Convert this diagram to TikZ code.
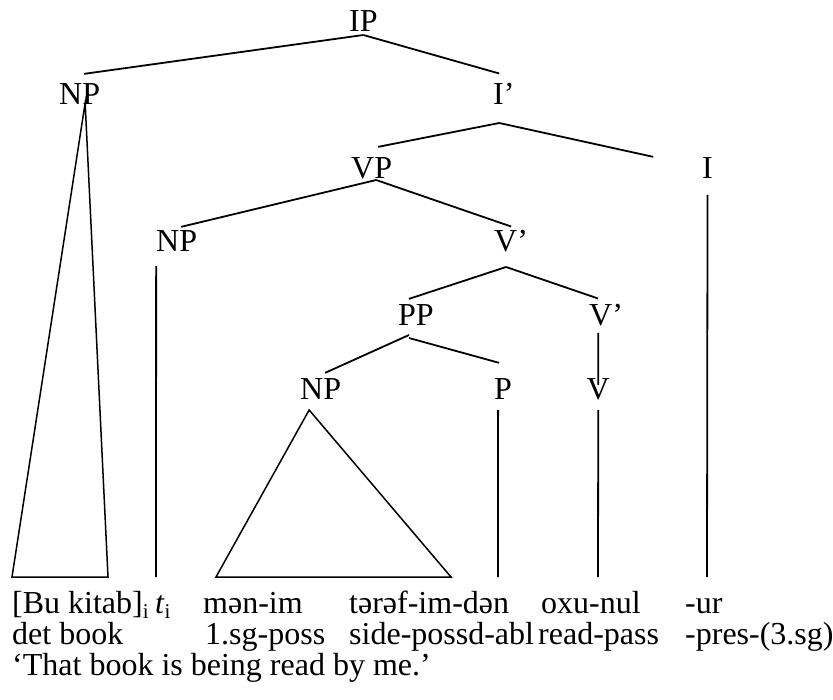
\documentclass[tikz,border=0pt]{standalone}
\usepackage{fontspec}
\setmainfont{Liberation Serif}
\begin{document}
\begin{tikzpicture}[x=1pt,y=-1pt,
  lab/.style={inner sep=0pt,anchor=base west,font=\fontsize{32}{38}\selectfont},
  word/.style={inner sep=0pt,anchor=base west,font=\fontsize{32}{38}\selectfont},
  branch/.style={line width=1.8pt},
  roof/.style={line width=1.5pt,line join=miter}]
\useasboundingbox (0,0) rectangle (833,700);

% category labels
\node[lab] (IP)  at (349,32)  {IP};
\node[lab] (NPa) at (59,105)  {NP};
\node[lab] (Ib)  at (493,105) {I’};
\node[lab] (VP)  at (351,179) {VP};
\node[lab] (I)   at (702,179) {I};
\node[lab] (NPb) at (156,252) {NP};
\node[lab] (Vb)  at (494,252) {V’};
\node[lab] (PP)  at (398,326) {PP};
\node[lab] (Vc)  at (589,326) {V’};
\node[lab] (NPc) at (300,400) {NP};
\node[lab] (P)   at (494,400) {P};
\node[lab] (V)   at (586.5,400) {V};

% word line, gloss line and translation
\newcommand{\sbi}{\raisebox{-5pt}{\fontsize{21}{21}\selectfont i}}
\node[word] (w1) at (12,613)  {[Bu kitab]\sbi};
\node[word] (w2) at (155,613) {\textit{t}\sbi};
\node[word] (w3) at (203,613) {mən-im};
\node[word] (w4) at (349,613) {tərəf-im-dən};
\node[word] (w5) at (541,613) {oxu-nul};
\node[word] (w6) at (685,613) {-ur};
\node[word] (g1) at (12,644)  {det book};
\node[word] (g3) at (205,644) {1.sg-poss};
\node[word] (g4) at (349,644) {side-possd-abl};
\node[word] (g5) at (538,644) {read-pass};
\node[word] (g6) at (685,644) {-pres-(3.sg)};
\node[word] (tr) at (12,675)  {‘That book is being read by me.’};

% lower ends of the non-branching lines and roofs
\coordinate (tA) at (12,577);
\coordinate (tB) at (108,577);
\coordinate (tC) at (216,577);
\coordinate (tD) at (451,577);
\coordinate (eNP) at (156,577);
\coordinate (eP)  at (498,577);
\coordinate (eV)  at (598,577);
\coordinate (eI)  at (707,577);

% branches
\draw[branch] ([shift={(0,3)}]IP.base) -- ([shift={(4.5,-10)}]NPa.north);
\draw[branch] ([shift={(0,3)}]IP.base) -- ([shift={(-4.6,-10)}]Ib.north);
\draw[branch] ([shift={(-4.6,18)}]Ib.base) -- ([shift={(6.5,-11)}]VP.north);
\draw[branch] ([shift={(-4.6,18)}]Ib.base) -- ([shift={(-54.3,-1)}]I.north);
\draw[branch] ([shift={(0,16)}]I.base) -- (eI);
\draw[branch] ([shift={(4.5,1)}]VP.base) -- ([shift={(4.5,-4)}]NPb.north);
\draw[branch] ([shift={(4.5,1)}]VP.base) -- ([shift={(0,-4)}]Vb.north);
\draw[branch] ([shift={(-20.5,14)}]NPb.base) -- (eNP);
\draw[branch] ([shift={(-5,15)}]Vb.base) -- ([shift={(-7,-6)}]PP.north);
\draw[branch] ([shift={(-5,15)}]Vb.base) -- ([shift={(-8,-6)}]Vc.north);
\draw[branch] ([shift={(-7.9,7)}]Vc.base) -- ([shift={(0,6)}]V.north);
\draw[branch] ([shift={(0,10)}]V.base) -- (eV);
\draw[branch] ([shift={(-7,9)}]PP.base) -- ([shift={(4.5,-6)}]NPc.north);
\draw[branch] ([shift={(-7,12)}]PP.base) -- ([shift={(-4,-16)}]P.north);
\draw[branch] ([shift={(-5,10)}]P.base) -- (eP);

% roofs
\draw[roof] ([shift={(5.5,-2)}]NPa.base) -- (tA) -- (tB) -- cycle;
\draw[roof] ([shift={(-11.5,10)}]NPc.base) -- (tC) -- (tD) -- cycle;
\end{tikzpicture}
\end{document}
